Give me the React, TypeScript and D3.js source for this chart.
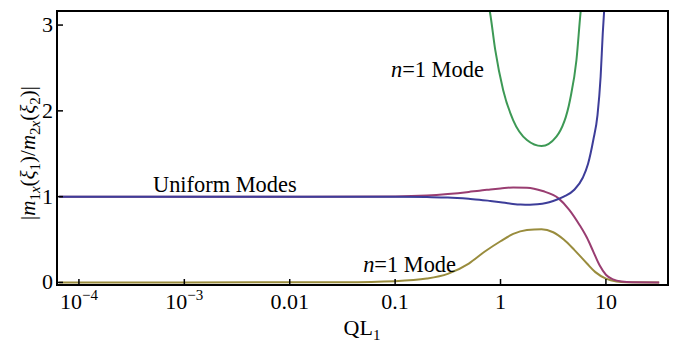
import React from "react";
import * as d3 from "d3";

const W = 676;
const H = 347;

// Data: QL1 values and ratio values
const blueX = [6.5e-5, 0.001, 0.01, 0.1, 0.2, 0.316, 0.5, 0.63, 0.8, 1, 1.26, 1.55, 1.9, 2.24, 2.7, 3.16, 3.98, 5.01, 6.03, 6.76, 7.59, 8.32, 8.91, 9.33, 9.77];
const blueY = [1, 1, 1, 0.998, 0.995, 0.99, 0.975, 0.965, 0.95, 0.935, 0.918, 0.907, 0.905, 0.91, 0.925, 0.95, 1.0, 1.08, 1.22, 1.38, 1.66, 1.95, 2.4, 2.9, 3.3];

const magentaX = [6.5e-5, 0.001, 0.01, 0.1, 0.2, 0.316, 0.5, 0.63, 0.8, 1, 1.32, 1.78, 2.51, 3.55, 4.47, 5.62, 6.61, 7.59, 8.71, 10, 11.7, 14.1, 17.8, 32];
const magentaY = [1, 1, 1, 1.002, 1.012, 1.03, 1.055, 1.07, 1.083, 1.095, 1.108, 1.105, 1.065, 0.98, 0.85, 0.67, 0.52, 0.36, 0.2, 0.09, 0.035, 0.01, 0.002, 0];

const oliveX = [6.5e-5, 0.001, 0.01, 0.0316, 0.1, 0.2, 0.316, 0.5, 0.71, 1, 1.32, 1.78, 2.45, 3.16, 3.98, 5.01, 6.61, 7.94, 10, 12.6, 15.8, 32];
const oliveY = [0, 0, 0.001, 0.003, 0.015, 0.045, 0.1, 0.22, 0.36, 0.48, 0.565, 0.61, 0.62, 0.585, 0.5, 0.38, 0.22, 0.12, 0.045, 0.012, 0.003, 0];

const greenX = [0.708, 0.794, 0.891, 1.06, 1.32, 1.78, 2.45, 3.39, 4.57, 5.25, 5.75, 6.17];
const greenY = [3.4, 3.15, 2.71, 2.24, 1.89, 1.66, 1.59, 1.7, 2.13, 2.59, 3.15, 3.5];

const xTicks = [1e-4, 1e-3, 0.01, 0.1, 1, 10];
const xTickLabels = [["10", "−4"], ["10", "−3"], ["0.01", ""], ["0.1", ""], ["1", ""], ["10", ""]];
const yTicks = [0, 1, 2, 3];

const series = [
  { xs: oliveX, ys: oliveY, color: "#998c3d" },
  { xs: magentaX, ys: magentaY, color: "#993d71" },
  { xs: blueX, ys: blueY, color: "#3d3d99" },
  { xs: greenX, ys: greenY, color: "#3d9955" },
];

const FONT = "Liberation Serif, DejaVu Serif, serif";
const FS = 22;
const SUB = 15;

export default function App() {
  const left = 57, right = 668, top = 11, bottom = 285;
  const x = d3.scaleLog().domain([Math.pow(10, -4.208), Math.pow(10, 1.589)]).range([left, right]);
  const y = d3.scaleLinear().domain([-0.03, 3.164]).range([bottom, top]);

  const line = d3
    .line<[number, number]>()
    .x((d) => x(d[0]))
    .y((d) => y(d[1]))
    .curve(d3.curveMonotoneX);

  return (
    <svg width={W} height={H} style={{ position: "absolute", left: 0, top: 0, background: "#fff", fontFamily: FONT }}>
      <defs>
        <clipPath id="plot">
          <rect x={left} y={top} width={right - left} height={bottom - top} />
        </clipPath>
      </defs>
      <g clipPath="url(#plot)">
        {series.map((s, i) => (
          <path
            key={i}
            d={line(s.xs.map((v, j) => [v, s.ys[j]] as [number, number])) || ""}
            fill="none"
            stroke={s.color}
            strokeWidth={2}
          />
        ))}
      </g>
      <rect x={left} y={top} width={right - left} height={bottom - top} fill="none" stroke="#000" strokeWidth={2} />
      {xTicks.map((t, i) => (
        <g key={i}>
          <line x1={x(t)} x2={x(t)} y1={bottom} y2={bottom - 6} stroke="#000" strokeWidth={1.5} />
          <text x={x(t)} y={309} textAnchor="middle" fontSize={FS}>
            {xTickLabels[i][0]}
            {xTickLabels[i][1] ? (
              <tspan fontSize={SUB} dy={-9}>{xTickLabels[i][1]}</tspan>
            ) : null}
          </text>
        </g>
      ))}
      {yTicks.map((t, i) => (
        <g key={i}>
          <line x1={left} x2={left + 6} y1={y(t)} y2={y(t)} stroke="#000" strokeWidth={1.5} />
          <text x={53} y={y(t) + 7} textAnchor="end" fontSize={FS}>{t}</text>
        </g>
      ))}
      <text x={362} y={335} textAnchor="middle" fontSize={FS}>
        QL<tspan fontSize={SUB} dy={5}>1</tspan>
      </text>
      <text transform="translate(35,153) rotate(-90)" textAnchor="middle" fontSize={21}>
        |<tspan fontStyle="italic">m</tspan>
        <tspan fontSize={SUB} dy={5}>1</tspan>
        <tspan fontSize={SUB} fontStyle="italic">x</tspan>
        <tspan dy={-5}>(</tspan>
        <tspan fontStyle="italic">ξ</tspan>
        <tspan fontSize={SUB} dy={5}>1</tspan>
        <tspan dy={-5}>)/</tspan>
        <tspan fontStyle="italic">m</tspan>
        <tspan fontSize={SUB} dy={5}>2</tspan>
        <tspan fontSize={SUB} fontStyle="italic">x</tspan>
        <tspan dy={-5}>(</tspan>
        <tspan fontStyle="italic">ξ</tspan>
        <tspan fontSize={SUB} dy={5}>2</tspan>
        <tspan dy={-5}>)|</tspan>
      </text>
      <text x={153} y={192} fontSize={22.4}>Uniform Modes</text>
      <text x={391} y={77} fontSize={22.4}>
        <tspan fontStyle="italic">n</tspan>=1 Mode
      </text>
      <text x={456} y={272} textAnchor="end" fontSize={22.4}>
        <tspan fontStyle="italic">n</tspan>=1 Mode
      </text>
    </svg>
  );
}
